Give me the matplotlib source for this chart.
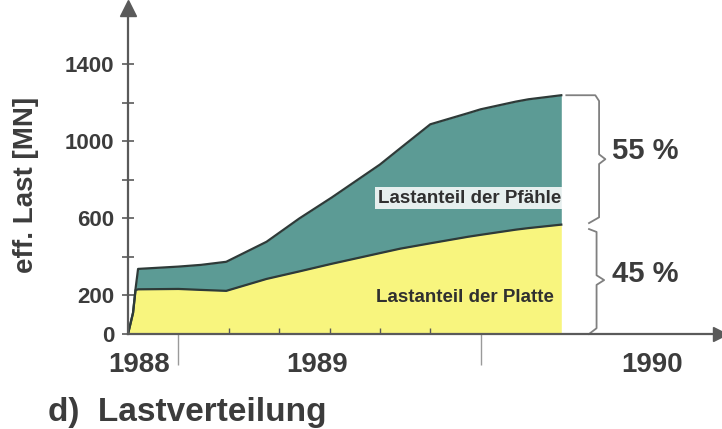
import matplotlib.pyplot as plt
from matplotlib.transforms import blended_transform_factory

plt.rcParams['font.family'] = ['Liberation Sans', 'DejaVu Sans']
plt.rcParams['font.weight'] = 'bold'
plt.rcParams['axes.labelweight'] = 'bold'

# months counted from Jan 1988
months = [10.0, 10.2, 10.3, 10.4, 12.0, 12.9, 13.9, 15.5, 16.8, 18.1,
          20.0, 20.8, 22.0, 23.5, 24.0, 25.4, 25.9, 27.2]
last_platte = [0, 110, 228, 232, 234, 229, 224, 286, 325, 365,
               420, 443, 471, 505, 515, 542, 550, 568]
last_gesamt = [0, 110, 235, 338, 350, 359, 375, 479, 600, 710,
               880, 964, 1089, 1147, 1167, 1207, 1219, 1240]

year_labels = ['1988', '1989', '1990']
year_label_pos = [10.45, 17.5, 30.8]
year_ticks = [12, 24]
shares = ['55 %', '45 %']

text_col = '#3c3c3c'
axis_col = '#5a5a5a'
yellow = '#f8f57e'
teal = '#5c9b95'
edge = '#2e3a38'

fig = plt.figure(figsize=(7.22, 4.29), dpi=100)
ax = fig.add_axes([128/722, 95/429, 592/722, 326/429])
ax.set_xlim(10.0, 33.5)
ax.set_ylim(0, 1693)

ax.fill_between(months, 0, last_platte, color=yellow, lw=0)
ax.fill_between(months, last_platte, last_gesamt, color=teal, lw=0)
ax.plot(months, last_platte, color=edge, lw=1.6)
ax.plot(months, last_gesamt, color=edge, lw=1.6)

for s in ['top', 'right']:
    ax.spines[s].set_visible(False)
for s in ['left', 'bottom']:
    ax.spines[s].set_color(axis_col)
    ax.spines[s].set_linewidth(1.6)

# arrow heads at the axis ends
ax.plot([10.0], [1693], marker='^', ms=11, color=axis_col, clip_on=False)
ax.plot([33.5], [0], marker='>', ms=10, color=axis_col, clip_on=False)

ax.set_yticks([0, 200, 600, 1000, 1400])
ax.set_yticks([400, 800, 1200], minor=True)
ax.tick_params(axis='y', which='both', direction='inout', length=8,
               width=1.2, color=axis_col, labelsize=16, labelcolor=text_col, pad=6)
ax.set_ylabel('eff. Last [MN]', fontsize=20, color=text_col, fontweight='bold')
ax.yaxis.set_label_coords(-0.15, 0.457)

ax.set_xticks(year_ticks)
ax.set_xticklabels([])
ax.set_xticks([14, 16, 18, 20, 22], minor=True)
ax.tick_params(axis='x', which='major', direction='out', length=22,
               width=1.0, color='#9a9a9a')
ax.tick_params(axis='x', which='minor', direction='in', length=4,
               width=1.0, color=axis_col)
tr = blended_transform_factory(ax.transData, ax.transAxes)
for lab, xp in zip(year_labels, year_label_pos):
    ax.text(xp, -0.095, lab, transform=tr, ha='center', va='center',
            fontsize=20, color=text_col)

# labels inside the areas
ax.text(23.56, 706, 'Lastanteil der Pfähle', ha='center', va='center',
        fontsize=13.5, color='#303030',
        bbox=dict(facecolor='white', edgecolor='none', alpha=0.85, pad=2))
ax.text(23.37, 187, 'Lastanteil der Platte', ha='center', va='center',
        fontsize=13.5, color='#303030')


def brace(y_top, y_bot, x_in, x_line, x_tip, top_flat=None):
    ym = (y_top + y_bot) / 2
    xs = []
    ys = []
    if top_flat is not None:
        xs += [top_flat, x_line - 0.15]
        ys += [y_top, y_top]
    else:
        xs += [x_in]
        ys += [y_top - 15]
    xs += [x_line, x_line, x_tip, x_line, x_line, x_in]
    ys += [y_top - 30, ym + 25, ym, ym - 25, y_bot + 30, y_bot]
    ax.plot(xs, ys, color='#808080', lw=1.3, clip_on=False,
            solid_joinstyle='round')
    return ym


top = last_gesamt[-1]
mid = last_platte[-1]
ym1 = brace(top, mid + 8, 28.3, 28.7, 28.95, top_flat=27.4)
ym2 = brace(mid - 8, 0, 28.3, 28.6, 28.9)
ax.text(29.2, ym1 + 40, shares[0], ha='left', va='center', fontsize=21,
        color=text_col)
ax.text(29.2, ym2 + 30, shares[1], ha='left', va='center', fontsize=21,
        color=text_col)

fig.text(48/722, 1 - 412/429, 'd)  Lastverteilung', ha='left', va='center',
         fontsize=24, color=text_col)

fig.savefig('out.png', dpi=100)
